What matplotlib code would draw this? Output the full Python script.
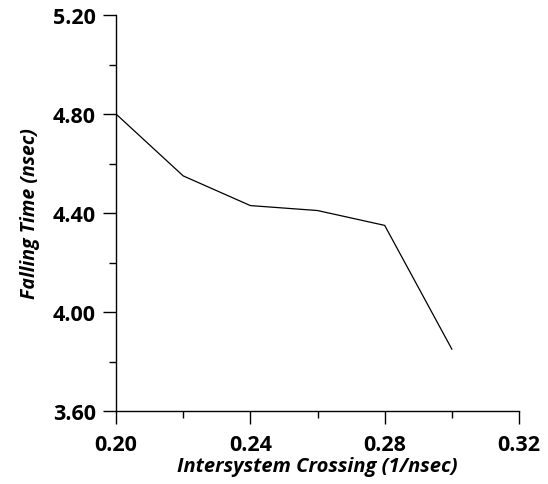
import matplotlib
matplotlib.use('Agg')
import matplotlib.pyplot as plt
from matplotlib.ticker import MultipleLocator, FormatStrFormatter

# data
isc_rate = [0.20, 0.22, 0.24, 0.26, 0.28, 0.30]       # 1/nsec
fall_time = [4.80, 4.55, 4.43, 4.41, 4.35, 3.85]      # nsec

XLIM = (0.20, 0.32)
YLIM = (3.60, 5.20)

plt.rcParams['font.family'] = ['Open Sans', 'DejaVu Sans']

fig = plt.figure(figsize=(5.48, 4.85), dpi=100)
ax = fig.add_axes([0.2117, 0.1505, 0.7354, 0.8165])

ax.plot(isc_rate, fall_time, color='black', lw=0.9)

ax.set_xlim(*XLIM)
ax.set_ylim(*YLIM)
ax.xaxis.set_major_locator(MultipleLocator(0.04))
ax.xaxis.set_minor_locator(MultipleLocator(0.02))
ax.yaxis.set_major_locator(MultipleLocator(0.40))
ax.yaxis.set_minor_locator(MultipleLocator(0.20))
ax.xaxis.set_major_formatter(FormatStrFormatter('%.2f'))
ax.yaxis.set_major_formatter(FormatStrFormatter('%.2f'))

for side in ('top', 'right'):
    ax.spines[side].set_visible(False)
for side in ('left', 'bottom'):
    ax.spines[side].set_linewidth(1.0)

ax.tick_params(which='major', direction='out', length=9.5, width=1.0, pad=5,
               labelsize=15.5)
ax.tick_params(axis='x', which='major', pad=7)
ax.tick_params(which='minor', direction='out', length=5, width=1.0)
for lab in ax.get_xticklabels() + ax.get_yticklabels():
    lab.set_fontweight('bold')

ax.set_xlabel('Intersystem Crossing (1/nsec)', fontsize=14.5, fontweight='bold',
              fontstyle='italic', labelpad=1)
ax.set_ylabel('Falling Time (nsec)', fontsize=14, fontweight='bold',
              fontstyle='italic', labelpad=9)

fig.savefig('out.png', dpi=100)
